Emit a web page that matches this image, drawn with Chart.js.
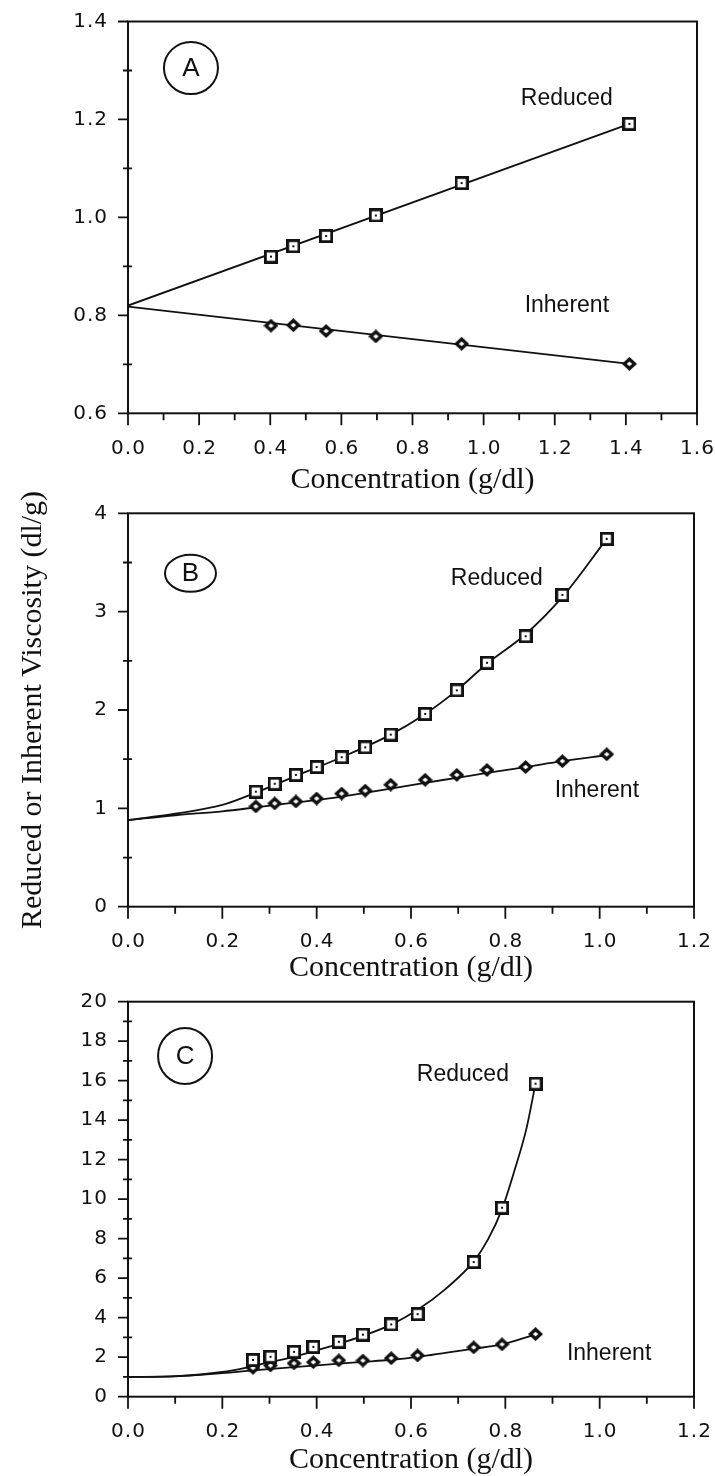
<!DOCTYPE html>
<html>
<head>
<meta charset="utf-8">
<script src="https://cdn.jsdelivr.net/npm/chart.js@4/dist/chart.umd.min.js"></script>
<style>
  html, body { margin: 0; background: #fff; }
  #wrap { position: relative; width: 715px; height: 1476px; overflow: hidden; }
  #wrap canvas { position: absolute; left: 0; }
</style>
</head>
<body>
<div id="wrap">
  <canvas id="chartA" width="715" height="500" style="top:0"></canvas>
  <canvas id="chartB" width="715" height="500" style="top:490px"></canvas>
  <canvas id="chartC" width="715" height="500" style="top:976px"></canvas>
</div>
<script>
// Panel A: measured viscosities and the straight-line fits
const concA = [0.402, 0.465, 0.557, 0.697, 0.938, 1.41];
const reducedA = [0.920, 0.941, 0.962, 1.004, 1.070, 1.191];
const inherentA = [0.779, 0.780, 0.768, 0.757, 0.742, 0.701];
const fitConcA = [0, 1.41];
const fitReducedA = [0.820, 1.191];
const fitInherentA = [0.818, 0.701];
const xTicksA = [0, 0.2, 0.4, 0.6, 0.8, 1.0, 1.2, 1.4, 1.6];
const yTicksA = [0.6, 0.8, 1.0, 1.2, 1.4];

// Panel B
const concB = [0.271, 0.311, 0.356, 0.400, 0.453, 0.503, 0.557, 0.630, 0.697, 0.761, 0.843, 0.921, 1.015];
const reducedB = [1.17, 1.25, 1.34, 1.42, 1.52, 1.62, 1.75, 1.96, 2.20, 2.48, 2.75, 3.17, 3.74];
const inherentB = [1.02, 1.05, 1.07, 1.10, 1.15, 1.18, 1.24, 1.29, 1.34, 1.39, 1.42, 1.48, 1.55];
const fitConcB = [0, 0.1, 0.2, 0.271, 0.356, 0.453, 0.557, 0.630, 0.697, 0.761, 0.843, 0.921, 1.015];
const fitReducedB = [0.88, 0.945, 1.035, 1.16, 1.33, 1.52, 1.75, 1.96, 2.20, 2.47, 2.77, 3.15, 3.74];
const fitInherentB = [0.88, 0.93, 0.97, 1.01, 1.06, 1.12, 1.20, 1.26, 1.31, 1.36, 1.42, 1.48, 1.54];
const xTicksB = [0, 0.2, 0.4, 0.6, 0.8, 1.0, 1.2];
const yTicksB = [0, 1, 2, 3, 4];

// Panel C
const concC = [0.265, 0.302, 0.352, 0.393, 0.447, 0.498, 0.558, 0.614, 0.733, 0.793, 0.864];
const reducedC = [1.86, 2.02, 2.27, 2.52, 2.78, 3.14, 3.66, 4.18, 6.82, 9.57, 15.85];
const inherentC = [1.46, 1.58, 1.69, 1.75, 1.84, 1.83, 1.95, 2.09, 2.50, 2.65, 3.17];
const fitConcRedC = [0, 0.1, 0.2, 0.265, 0.302, 0.352, 0.393, 0.447, 0.498, 0.558, 0.614, 0.673, 0.733, 0.763, 0.793, 0.82, 0.845, 0.864];
const fitReducedC = [1.0, 1.04, 1.25, 1.55, 1.75, 2.02, 2.30, 2.68, 3.08, 3.65, 4.40, 5.45, 6.85, 7.95, 9.50, 11.5, 13.6, 15.85];
const fitConcInhC = [0, 0.1, 0.2, 0.265, 0.352, 0.447, 0.498, 0.558, 0.614, 0.733, 0.793, 0.864];
const fitInherentC = [1.0, 1.03, 1.19, 1.33, 1.50, 1.67, 1.76, 1.87, 2.02, 2.43, 2.65, 3.16];
const xTicksC = [0, 0.2, 0.4, 0.6, 0.8, 1.0, 1.2];
const yTicksC = [0, 2, 4, 6, 8, 10, 12, 14, 16, 18, 20];

const ink = '#111';
const serif = '"Liberation Serif", "Times New Roman", serif';
const sans = '"Liberation Sans", Arial, sans-serif';

const zip = (xs, ys) => xs.map((x, i) => ({ x, y: ys[i] }));

// open square with a dot in the middle (reduced viscosity)
function boxDot(size) {
  const c = document.createElement('canvas');
  c.width = c.height = size;
  const g = c.getContext('2d');
  g.fillStyle = '#fff';
  g.fillRect(0, 0, size, size);
  g.strokeStyle = ink;
  g.lineWidth = 2.8;
  g.strokeRect(1.4, 1.4, size - 2.8, size - 2.8);
  g.fillStyle = ink;
  g.fillRect(size / 2 - 1, size / 2 - 1, 2, 2);
  return c;
}

// dark diamond with a small light centre (inherent viscosity)
function diamondDot(w, h) {
  const c = document.createElement('canvas');
  c.width = w;
  c.height = h;
  const g = c.getContext('2d');
  g.fillStyle = ink;
  g.beginPath();
  g.moveTo(w / 2, 0);
  g.lineTo(w, h / 2);
  g.lineTo(w / 2, h);
  g.lineTo(0, h / 2);
  g.closePath();
  g.fill();
  g.fillStyle = '#fff';
  g.beginPath();
  g.moveTo(w / 2, h / 2 - 2.2);
  g.lineTo(w / 2 + 2.8, h / 2);
  g.lineTo(w / 2, h / 2 + 2.2);
  g.lineTo(w / 2 - 2.8, h / 2);
  g.closePath();
  g.fill();
  return c;
}
const squareMark = boxDot(14);
const diamondMark = diamondDot(15, 14);

// box frame, major/minor ticks, tick labels, curve names and the ringed panel letter
const frame = {
  id: 'frame',
  afterDraw(chart, args, o) {
    const { ctx, chartArea: a, scales: { x, y } } = chart;
    ctx.save();
    ctx.strokeStyle = ink;
    ctx.lineWidth = 2;
    ctx.strokeRect(a.left, a.top, a.right - a.left, a.bottom - a.top);

    ctx.lineWidth = 1.8;
    ctx.beginPath();
    const nx = Math.round((x.max - x.min) / o.xMinor);
    for (let i = 0; i <= nx; i++) {
      const v = x.min + i * o.xMinor;
      const major = o.xTicks.some(t => Math.abs(t - v) < 1e-6);
      const px = x.getPixelForValue(v);
      ctx.moveTo(px, a.bottom);
      ctx.lineTo(px, a.bottom + (major ? 12 : 7));
    }
    const ny = Math.round((y.max - y.min) / o.yMinor);
    for (let i = 0; i <= ny; i++) {
      const v = y.min + i * o.yMinor;
      const major = o.yTicks.some(t => Math.abs(t - v) < 1e-6);
      const py = y.getPixelForValue(v);
      ctx.moveTo(a.left - (major ? 10 : 5), py);
      ctx.lineTo(a.left + (major ? 0 : 4), py);
    }
    ctx.stroke();

    ctx.fillStyle = ink;
    ctx.font = '20px "DejaVu Sans", sans-serif';
    ctx.letterSpacing = '1px';
    ctx.textBaseline = 'middle';
    ctx.textAlign = 'center';
    o.xTicks.forEach(v => ctx.fillText(v.toFixed(1), x.getPixelForValue(v) + 0.5, a.bottom + 35));
    ctx.textAlign = 'right';
    o.yTicks.forEach(v => ctx.fillText(v.toFixed(o.yDigits), a.left - 20, y.getPixelForValue(v)));
    ctx.letterSpacing = '0px';

    ctx.font = '23px ' + sans;
    ctx.textAlign = 'center';
    o.notes.forEach(n => ctx.fillText(n.text, x.getPixelForValue(n.x), y.getPixelForValue(n.y)));

    const L = o.letter;
    const cx = x.getPixelForValue(L.x), cy = y.getPixelForValue(L.y);
    ctx.lineWidth = 2;
    ctx.beginPath();
    ctx.ellipse(cx, cy, L.rx, L.ry, 0, 0, Math.PI * 2);
    ctx.stroke();
    ctx.font = '26px ' + sans;
    ctx.fillText(L.text, cx, cy + 1);
    ctx.restore();
  }
};

function makePanel(id, p) {
  const lineSet = (xs, ys) => ({
    data: zip(xs, ys),
    showLine: true,
    pointRadius: 0,
    borderColor: ink,
    borderWidth: 1.8,
    cubicInterpolationMode: 'monotone'
  });
  new Chart(document.getElementById(id), {
    type: 'scatter',
    data: {
      datasets: [
        { data: zip(p.conc, p.reduced), pointStyle: squareMark, pointRadius: 7 },
        { data: zip(p.conc, p.inherent), pointStyle: diamondMark, pointRadius: 7 },
        lineSet(p.fitRedX, p.fitRed),
        lineSet(p.fitInhX, p.fitInh)
      ]
    },
    options: {
      responsive: false,
      animation: false,
      layout: { padding: { top: p.top, right: 715 - p.right, left: 0, bottom: 0 } },
      plugins: {
        legend: { display: false },
        tooltip: { enabled: false },
        frame: {
          xTicks: p.xTicks, yTicks: p.yTicks, xMinor: 0.1, yMinor: p.yMinor,
          yDigits: p.yDigits, notes: p.notes, letter: p.letter
        }
      },
      scales: {
        x: {
          type: 'linear',
          min: p.xTicks[0],
          max: p.xTicks[p.xTicks.length - 1],
          ticks: { display: false },
          grid: { display: false },
          border: { display: false },
          title: {
            display: true,
            text: 'Concentration (g/dl)',
            color: ink,
            font: { family: serif, size: 30, lineHeight: 1 },
            padding: { top: 0, bottom: p.xTitlePad }
          },
          afterFit: s => { s.height = 500 - p.bottom; }
        },
        y: {
          type: 'linear',
          min: p.yTicks[0],
          max: p.yTicks[p.yTicks.length - 1],
          ticks: { display: false },
          grid: { display: false },
          border: { display: false },
          title: {
            display: !!p.yTitle,
            text: p.yTitle || '',
            color: ink,
            font: { family: serif, size: 30, lineHeight: 1 },
            padding: { top: 18, bottom: 0 }
          },
          afterFit: s => { s.width = 128; }
        }
      }
    },
    plugins: [frame]
  });
}

makePanel('chartA', {
  conc: concA, reduced: reducedA, inherent: inherentA,
  fitRedX: fitConcA, fitRed: fitReducedA, fitInhX: fitConcA, fitInh: fitInherentA,
  xTicks: xTicksA, yTicks: yTicksA, yMinor: 0.1, yDigits: 1,
  top: 21.5, bottom: 413.3, right: 697, xTitlePad: 5,
  notes: [{ text: 'Reduced', x: 1.234, y: 1.243 }, { text: 'Inherent', x: 1.234, y: 0.819 }],
  letter: { text: 'A', x: 0.177, y: 1.305, rx: 27, ry: 26 }
});

makePanel('chartB', {
  conc: concB, reduced: reducedB, inherent: inherentB,
  fitRedX: fitConcB, fitRed: fitReducedB, fitInhX: fitConcB, fitInh: fitInherentB,
  xTicks: xTicksB, yTicks: yTicksB, yMinor: 0.5, yDigits: 0,
  top: 23.3, bottom: 416.7, right: 694, xTitlePad: 7,
  yTitle: 'Reduced or Inherent Viscosity (dl/g)',
  notes: [{ text: 'Reduced', x: 0.782, y: 3.34 }, { text: 'Inherent', x: 0.994, y: 1.18 }],
  letter: { text: 'B', x: 0.1325, y: 3.39, rx: 25.5, ry: 18.5 }
});

makePanel('chartC', {
  conc: concC, reduced: reducedC, inherent: inherentC,
  fitRedX: fitConcRedC, fitRed: fitReducedC, fitInhX: fitConcInhC, fitInh: fitInherentC,
  xTicks: xTicksC, yTicks: yTicksC, yMinor: 1, yDigits: 0,
  top: 25.7, bottom: 420.7, right: 694, xTitlePad: 1,
  notes: [{ text: 'Reduced', x: 0.71, y: 16.29 }, { text: 'Inherent', x: 1.02, y: 2.16 }],
  letter: { text: 'C', x: 0.121, y: 17.25, rx: 27, ry: 28 }
});
</script>
</body>
</html>
